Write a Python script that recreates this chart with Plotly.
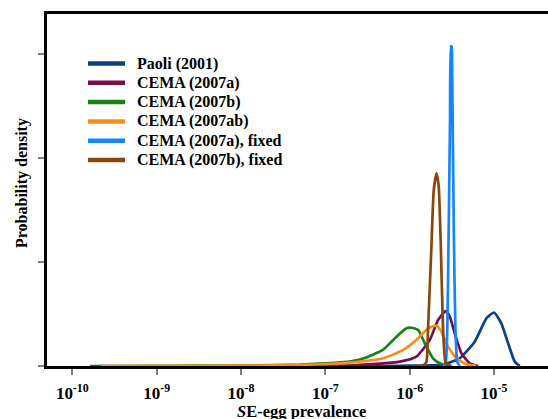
import plotly.graph_objects as go

# ---- data (prevalence, probability density) ----
paoli_x = [5.0e-8, 7.6e-7, 2.47e-6, 3.92e-6, 5.90e-6, 8.12e-6, 1.0e-5, 1.22e-5, 1.47e-5, 1.76e-5, 2.02e-5]
paoli_y = [0, 0.01, 0.07, 0.37, 1.17, 2.29, 2.57, 2.05, 1.09, 0.21, 0]

cema_a_x = [5.0e-8, 1.95e-7, 7.64e-7, 1.20e-6, 1.73e-6, 2.17e-6, 2.68e-6, 2.99e-6, 3.42e-6, 4.11e-6, 5.15e-6, 6.46e-6]
cema_a_y = [0, 0.02, 0.21, 0.45, 1.25, 2.21, 2.64, 2.37, 1.57, 0.61, 0.13, 0]

cema_b_x = [1.62e-10, 8.34e-10, 3.26e-9, 1.28e-8, 4.99e-8, 1.13e-7, 1.95e-7, 2.94e-7, 4.80e-7, 6.98e-7,
            9.17e-7, 1.05e-6, 1.26e-6, 1.51e-6, 1.89e-6, 2.27e-6, 2.75e-6]
cema_b_y = [0, 0.005, 0.015, 0.03, 0.07, 0.14, 0.21, 0.38, 0.77, 1.41, 1.81, 1.84, 1.73, 1.09, 0.37, 0.13, 0]

cema_ab_x = [2.23e-10, 8.34e-10, 3.26e-9, 1.28e-8, 4.99e-8, 1.13e-7, 1.95e-7, 4.84e-7, 8.35e-7, 1.20e-6,
             1.65e-6, 2.08e-6, 2.38e-6, 2.85e-6, 3.59e-6, 4.71e-6, 6.18e-6]
cema_ab_y = [0, 0.005, 0.01, 0.02, 0.05, 0.10, 0.16, 0.37, 0.77, 1.25, 1.81, 1.94, 1.65, 0.93, 0.37, 0.08, 0]

cema_a_fixed_x = [2.49e-6, 2.68e-6, 2.79e-6, 2.90e-6, 3.01e-6, 3.08e-6, 3.15e-6, 3.19e-6, 3.26e-6, 3.36e-6,
                  3.49e-6, 3.67e-6, 3.93e-6]
cema_a_fixed_y = [0, 0.19, 1.73, 6.54, 11.83, 15.38, 15.34, 14.18, 10.38, 5.58, 1.73, 0.19, 0]

cema_b_fixed_x = [1.26e-6, 1.47e-6, 1.58e-6, 1.65e-6, 1.81e-6, 1.93e-6, 2.08e-6, 2.21e-6, 2.34e-6, 2.49e-6,
                  2.65e-6, 2.82e-6, 3.15e-6]
cema_b_fixed_y = [0, 0.05, 0.19, 1.73, 5.74, 8.46, 9.26, 8.62, 5.74, 1.73, 0.19, 0.05, 0]

x_tick_vals = [1e-10, 1e-9, 1e-8, 1e-7, 1e-6, 1e-5]
x_tick_text = ["10<sup>-10</sup>", "10<sup>-9</sup>", "10<sup>-8</sup>", "10<sup>-7</sup>",
               "10<sup>-6</sup>", "10<sup>-5</sup>"]
y_tick_vals = [0, 5, 10, 15]

series_names = ["Paoli (2001)", "CEMA (2007a)", "CEMA (2007b)", "CEMA (2007ab)",
                "CEMA (2007a), fixed", "CEMA (2007b), fixed"]
series_x = [paoli_x, cema_a_x, cema_b_x, cema_ab_x, cema_a_fixed_x, cema_b_fixed_x]
series_y = [paoli_y, cema_a_y, cema_b_y, cema_ab_y, cema_a_fixed_y, cema_b_fixed_y]
series_colors = ["#0b4285", "#7e0a4c", "#178017", "#ff8a17", "#1684ff", "#87480c"]

# ---- layout geometry (pixels) ----
W, H = 548, 419
L, R, T, B = 47, 0, 14, 53
PW, PH = W - L - R, H - T - B


def px(xp):
    return (xp - L) / PW


def py(yp):
    return (H - B - yp) / PH


serif = "Liberation Serif, Times New Roman, serif"

fig = go.Figure()
for name, xs, ys, col in zip(series_names, series_x, series_y, series_colors):
    fig.add_trace(go.Scatter(x=xs, y=ys, mode="lines", name=name, showlegend=False,
                             line=dict(color=col, width=2.7, shape="spline", smoothing=0.5)))

shapes = []
annotations = []
# manual legend
for i, (name, col) in enumerate(zip(series_names, series_colors)):
    yc = 63.5 + i * 19.3
    shapes.append(dict(type="line", xref="paper", yref="paper",
                       x0=px(88), x1=px(125), y0=py(yc), y1=py(yc),
                       line=dict(color=col, width=4.5)))
    annotations.append(dict(text="<b>" + name + "</b>", xref="paper", yref="paper",
                            x=px(135), y=py(yc), xanchor="left", yanchor="middle",
                            showarrow=False, font=dict(family=serif, size=16, color="black")))

annotations.append(dict(text="<b><i>S</i>E-egg prevalence</b>", xref="paper", yref="paper",
                        x=px(301), y=py(411), xanchor="center", yanchor="middle",
                        showarrow=False, font=dict(family=serif, size=16.5, color="black")))
annotations.append(dict(text="<b>Probability density</b>", xref="paper", yref="paper",
                        x=px(22), y=py(183), xanchor="center", yanchor="middle",
                        textangle=-90, showarrow=False, font=dict(family=serif, size=16, color="black")))

fig.update_layout(
    width=W, height=H,
    margin=dict(l=L, r=R, t=T, b=B),
    plot_bgcolor="white", paper_bgcolor="white",
    font=dict(family=serif, color="black"),
    showlegend=False,
    xaxis=dict(type="log", range=[-10.30, -4.36], tickvals=x_tick_vals, ticktext=x_tick_text,
               showline=True, linecolor="black", linewidth=2.5, mirror=True,
               ticks="outside", ticklen=6, tickwidth=1.5, tickcolor="#808080",
               ticklabelstandoff=4,
               showgrid=False, zeroline=False,
               tickfont=dict(family=serif, size=17, color="black", weight="bold")),
    yaxis=dict(range=[0, 16.92], tickvals=y_tick_vals, showticklabels=False,
               showline=True, linecolor="black", linewidth=2.5, mirror=False,
               ticks="outside", ticklen=6, tickwidth=1.5, tickcolor="#808080",
               showgrid=False, zeroline=False),
    shapes=shapes,
    annotations=annotations,
)

fig.write_html("out.html")
